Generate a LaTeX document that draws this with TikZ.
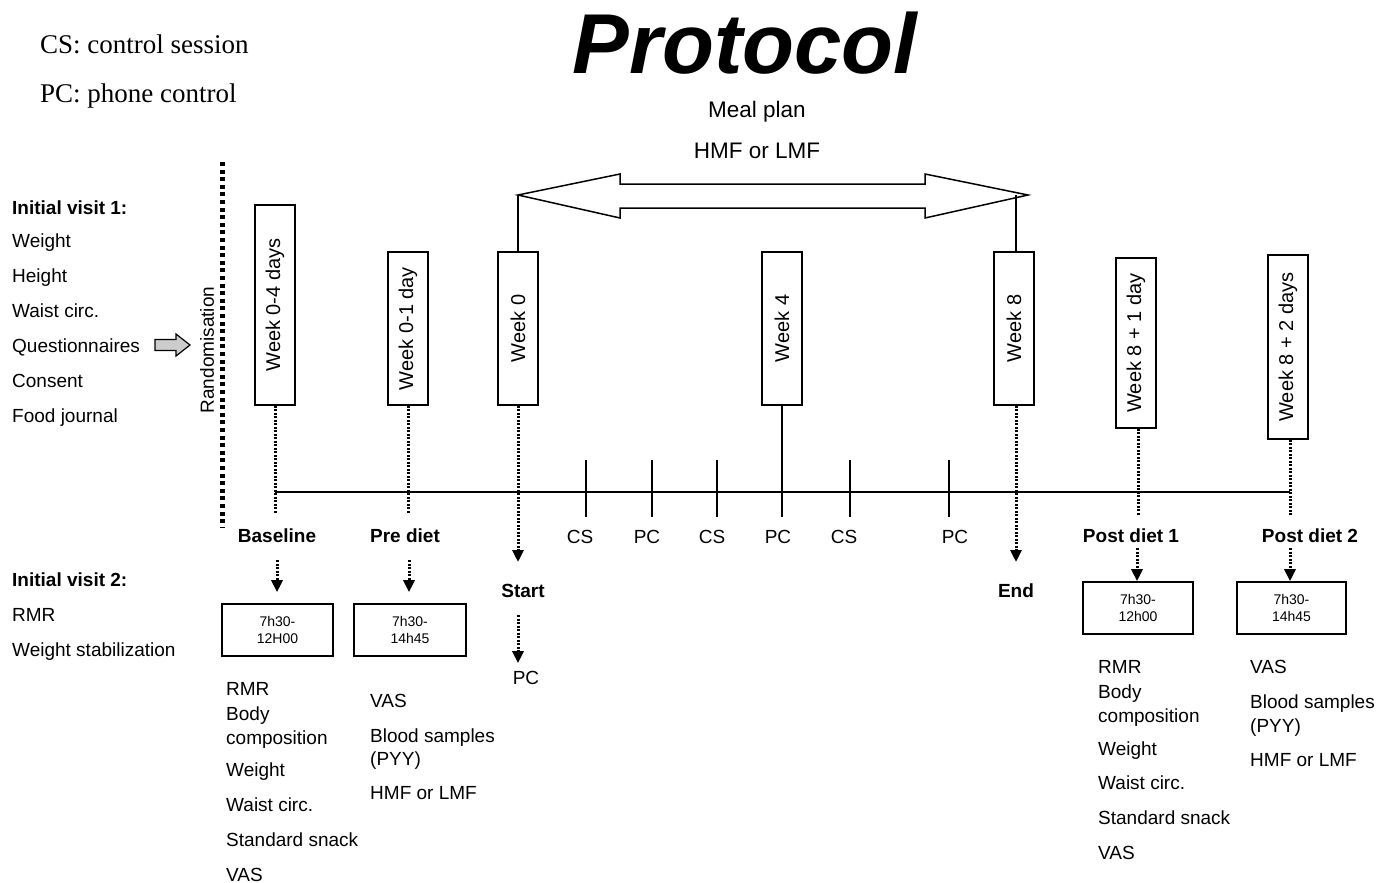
\documentclass[tikz,border=0pt]{standalone}
\usepackage{fontspec}
\usepackage{graphicx}
\setmainfont{Liberation Sans}
\newfontfamily\legfont{Liberation Serif}
\usetikzlibrary{arrows.meta}
\begin{document}
\begin{tikzpicture}[x=1pt,y=-1pt,
 txt/.style={inner sep=0pt,anchor=mid west,yshift=-4pt,font=\fontsize{19}{22}\selectfont},
 btxt/.style={inner sep=0pt,anchor=mid west,yshift=-4pt,font=\fontsize{19}{22}\selectfont\bfseries},
 ctxt/.style={inner sep=0pt,anchor=mid,yshift=-4pt,font=\fontsize{19}{22}\selectfont},
 cbtxt/.style={inner sep=0pt,anchor=mid,yshift=-4pt,font=\fontsize{19}{22}\selectfont\bfseries},
 legtxt/.style={inner sep=0pt,anchor=mid west,yshift=-5pt,font=\legfont\fontsize{27}{30}\selectfont},
 vbox/.style={draw,line width=1.6pt,minimum width=40pt,inner sep=0pt,font=\fontsize{20}{22}\selectfont},
 tbox/.style={draw,line width=1.6pt,minimum height=52pt,inner sep=0pt,align=center,font=\fontsize{14}{17}\selectfont},
 dots/.style={line width=3pt,dash pattern=on 2pt off 1.5pt},
 dotarrow/.style={line width=3pt,dash pattern=on 2pt off 1.5pt,-{Triangle[length=12pt,width=11pt]}},
 solidline/.style={line width=1.6pt},
 randline/.style={line width=5pt,dash pattern=on 4pt off 3.6pt},
]
\useasboundingbox (0,0) rectangle (1381,883);

% title and legend
\node[inner sep=0pt,font=\fontsize{85}{90}\selectfont\bfseries\itshape] (title) at (745,43) {Protocol};
\node[legtxt] (leg1) at (40,46) {CS: control session};
\node[legtxt] (leg2) at (40,95) {PC: phone control};
\node[inner sep=0pt,anchor=mid,yshift=-5pt,font=\fontsize{22.5}{25}\selectfont] (meal) at (757,110) {Meal plan};
\node[inner sep=0pt,anchor=mid,yshift=-5pt,font=\fontsize{22.5}{25}\selectfont] (hmf) at (757,151) {HMF or LMF};

% initial visit 1
\node[btxt] (iv1) at (12,208) {Initial visit 1:};
\node[txt] (iv1a) at (12,241) {Weight};
\node[txt] (iv1b) at (12,276) {Height};
\node[txt] (iv1c) at (12,311) {Waist circ.};
\node[txt] (iv1d) at (12,346) {Questionnaires};
\node[txt] (iv1e) at (12,381) {Consent};
\node[txt] (iv1f) at (12,416) {Food journal};
\draw[line width=1.2pt,fill=gray!40,line join=miter] (155,339.5) -- (176,339.5) -- (176,334) -- (190,345) -- (176,356) -- (176,350.5) -- (155,350.5) -- cycle;

% initial visit 2
\node[btxt] (iv2) at (12,580) {Initial visit 2:};
\node[txt] (iv2a) at (12,615) {RMR};
\node[txt] (iv2b) at (12,650) {Weight stabilization};

% randomisation
\coordinate (rtop) at (222,162);
\coordinate (rbot) at (222,527);
\draw[randline] (rtop) -- (rbot);
\node[inner sep=0pt,rotate=90,font=\fontsize{19}{22}\selectfont] (rand) at (207,350) {Randomisation};

% week boxes
\node[vbox,minimum height=200pt] (w1) at (275,305) {\rotatebox{90}{Week 0-4 days}};
\node[vbox,minimum height=153pt] (w2) at (408,328.5) {\rotatebox{90}{Week 0-1 day}};
\node[vbox,minimum height=153pt] (w3) at (518,328.5) {\rotatebox{90}{Week 0}};
\node[vbox,minimum height=153pt] (w4) at (782,328.5) {\rotatebox{90}{Week 4}};
\node[vbox,minimum height=153pt] (w5) at (1014,328.5) {\rotatebox{90}{Week 8}};
\node[vbox,minimum height=170pt] (w6) at (1136,343) {\rotatebox{90}{Week 8 + 1 day}};
\node[vbox,minimum height=184pt] (w7) at (1288,347) {\rotatebox{90}{Week 8 + 2 days}};

% double arrow (meal plan)
\coordinate (dl) at (518,195);
\coordinate (dr) at (1028,195);
\draw[line width=1.5pt,line join=miter] (dl) -- (620,174) -- (620,184) -- (925,184) -- (925,174) -- (dr) -- (925,218) -- (925,208) -- (620,208) -- (620,218) -- cycle;
\draw[solidline] (w3.north) -- (dl);
\coordinate (drl) at (1016,195);
\draw[solidline] (w5.north -| drl) -- (drl);

% timeline
\coordinate (tlL) at (275,492);
\coordinate (tlR) at (1290,492);
\draw[solidline] (tlL) -- (tlR);

% ticks
\foreach \x/\n in {586/t1,652/t2,717/t3,850/t5,949/t6}{
  \coordinate (\n a) at (\x,460);
  \coordinate (\n b) at (\x,517);
  \draw[solidline] (\n a) -- (\n b);
}
\coordinate (w4b) at (782,517);
\draw[solidline] (w4.south) -- (w4b);

% tick labels
\node[ctxt] (cs1) at (580,537) {CS};
\node[ctxt] (pc1) at (647,537) {PC};
\node[ctxt] (cs2) at (712,537) {CS};
\node[ctxt] (pc2) at (778,537) {PC};
\node[ctxt] (cs3) at (844,537) {CS};
\node[ctxt] (pc3) at (955,537) {PC};

% dotted drops
\coordinate (d1) at (275,513);
\coordinate (d2) at (408,513);
\coordinate (d6) at (1138,515);
\coordinate (d7) at (1290,515);
\draw[dots] (w1.south) -- (d1);
\draw[dots] (w2.south) -- (d2);
\draw[dots] (w6.south -| d6) -- (d6);
\draw[dots] (w7.south -| d7) -- (d7);

% phase labels
\node[cbtxt] (base) at (277,536) {Baseline};
\node[cbtxt] (pre) at (405,536) {Pre diet};
\node[cbtxt] (post1) at (1131,536) {Post diet 1};
\node[cbtxt] (post2) at (1310,536) {Post diet 2};
\node[cbtxt] (start) at (523,591) {Start};
\node[cbtxt] (end) at (1016,591) {End};
\node[ctxt] (pcs) at (526,678) {PC};

% time boxes
\node[tbox,minimum width=111pt] (tb1) at (277.5,630) {7h30-\\12H00};
\node[tbox,minimum width=112pt] (tb2) at (410,630) {7h30-\\14h45};
\node[tbox,minimum width=110pt] (tb3) at (1138,608) {7h30-\\12h00};
\node[tbox,minimum width=109pt] (tb4) at (1291.5,608) {7h30-\\14h45};

% arrows
\coordinate (a1s) at (277,560);
\coordinate (a2s) at (409,560);
\coordinate (a3e) at (518,562);
\coordinate (a5e) at (1016,562);
\coordinate (a6s) at (1137,548);
\coordinate (a7s) at (1290,548);
\coordinate (ass) at (518,615);
\draw[dotarrow] (a1s) -- ([yshift=11pt]tb1.north -| a1s);
\draw[dotarrow] (a2s) -- ([yshift=11pt]tb2.north -| a2s);
\draw[dotarrow] (w3.south) -- (a3e);
\draw[dotarrow] (w5.south -| a5e) -- (a5e);
\draw[dotarrow] (a6s) -- (tb3.north -| a6s);
\draw[dotarrow] (a7s) -- (tb4.north -| a7s);
\draw[dotarrow] (ass) -- ([yshift=8pt]pcs.north -| ass);

% lists under boxes
\node[txt] (l1a) at (226,689) {RMR};
\node[txt] (l1b) at (226,714) {Body};
\node[txt] (l1c) at (226,738) {composition};
\node[txt] (l1d) at (226,770) {Weight};
\node[txt] (l1e) at (226,805) {Waist circ.};
\node[txt] (l1f) at (226,840) {Standard snack};
\node[txt] (l1g) at (226,875) {VAS};

\node[txt] (l2a) at (370,701) {VAS};
\node[txt] (l2b) at (370,736) {Blood samples};
\node[txt] (l2c) at (370,759) {(PYY)};
\node[txt] (l2d) at (370,793) {HMF or LMF};

\node[txt] (l3a) at (1098,667) {RMR};
\node[txt] (l3b) at (1098,692) {Body};
\node[txt] (l3c) at (1098,716) {composition};
\node[txt] (l3d) at (1098,749) {Weight};
\node[txt] (l3e) at (1098,783) {Waist circ.};
\node[txt] (l3f) at (1098,818) {Standard snack};
\node[txt] (l3g) at (1098,853) {VAS};

\node[txt] (l4a) at (1250,667) {VAS};
\node[txt] (l4b) at (1250,702) {Blood samples};
\node[txt] (l4c) at (1250,726) {(PYY)};
\node[txt] (l4d) at (1250,760) {HMF or LMF};
\end{tikzpicture}
\end{document}
